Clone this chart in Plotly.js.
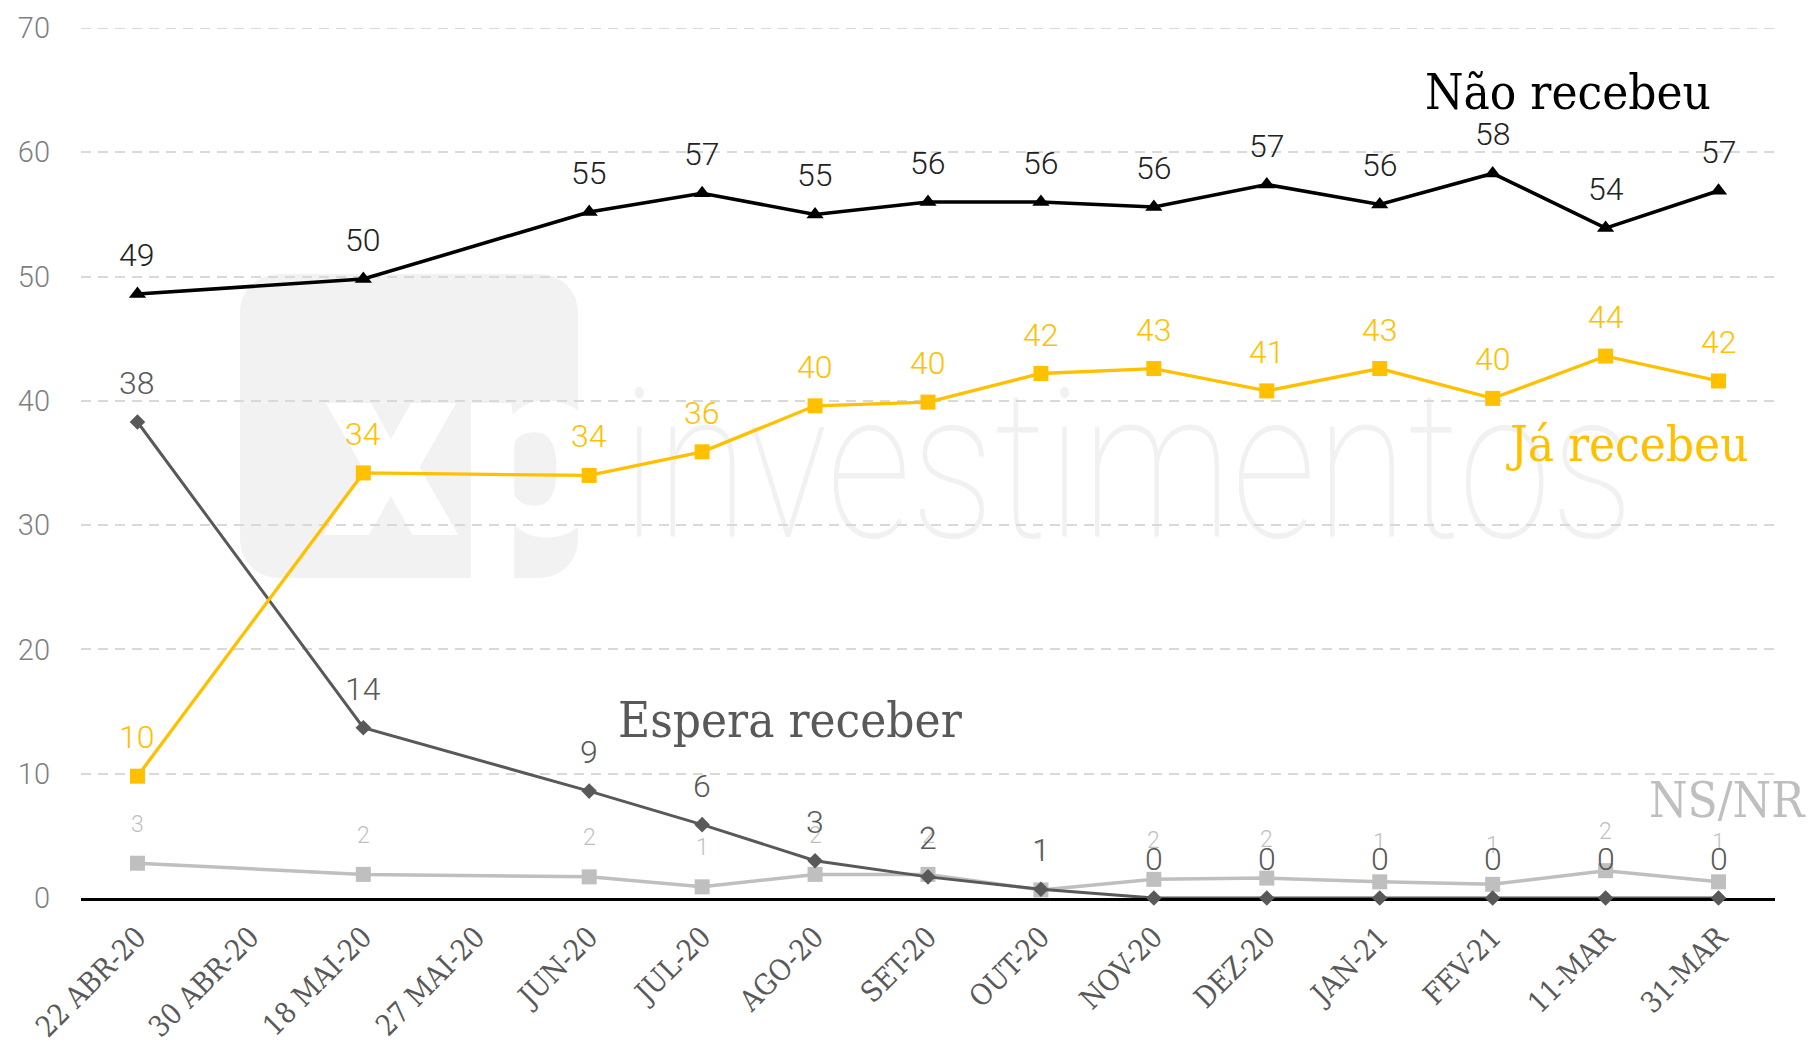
<!DOCTYPE html>
<html>
<head>
<meta charset="utf-8">
<script src="https://cdn.plot.ly/plotly-3.0.1.min.js"></script>
<style>html,body{margin:0;padding:0;background:#fff;}#chart{width:1810px;height:1055px;}</style>
</head>
<body>
<div id="chart"></div>
<script>
// ---- data ----
var categories = ["22 ABR-20","30 ABR-20","18 MAI-20","27 MAI-20","JUN-20","JUL-20","AGO-20","SET-20","OUT-20","NOV-20","DEZ-20","JAN-21","FEV-21","11-MAR","31-MAR"];
var naoRecebeu   = [48.6, null, 49.8, null, 55.2, 56.7, 55.0, 56.0, 56.0, 55.6, 57.4, 55.8, 58.3, 53.9, 56.9];
var jaRecebeu    = [9.8,  null, 34.2, null, 34.0, 35.9, 39.6, 39.9, 42.2, 42.6, 40.8, 42.6, 40.2, 43.6, 41.6];
var esperaReceber= [38.3, null, 13.7, null, 8.6,  5.9,  3.0,  1.7,  0.7,  0,    0,    0,    0,    0,    0];
var nsNr         = [2.8,  null, 1.9,  null, 1.7,  0.9,  1.9,  1.9,  0.65, 1.5,  1.6,  1.3,  1.1,  2.2,  1.3];
var seriesNames  = ["Não recebeu","Já recebeu","Espera receber","NS/NR"];
var yTicks = [0,10,20,30,40,50,60,70];

// ---- styles ----
var YEL = "#FFC000", DARK = "#595959", LIGHT = "#BFBFBF";
var NUMFONT = "Roboto, 'Open Sans', sans-serif";
var SLAB = "'DejaVu Serif Condensed', 'DejaVu Serif', serif";

var L = 81, R = 1775, T = 28, B = 898;
function px(x){ return (x - L) / (R - L); }
function py(y){ return (B - y) / (B - T); }

function mkTrace(vals, name, color, symbol, size, width){
  return {x: categories, y: vals, name: name, type: "scatter", mode: "lines+markers",
    connectgaps: true, line: {color: color, width: width},
    marker: {symbol: symbol, size: size, color: color}, hoverinfo: "skip", cliponaxis: false};
}
var traces = [
  mkTrace(nsNr, seriesNames[3], LIGHT, "square", 15, 3.5),
  mkTrace(esperaReceber, seriesNames[2], DARK, "diamond", 12, 3),
  mkTrace(jaRecebeu, seriesNames[1], YEL, "square", 15, 3.3),
  mkTrace(naoRecebeu, seriesNames[0], "#000000", "triangle-up", 15, 3.6)
];

var annotations = [];
function addLabels(vals, color, size){
  vals.forEach(function(v, i){
    if (v === null) return;
    annotations.push({x: categories[i], y: v, xref: "x", yref: "y", text: String(Math.round(v)),
      showarrow: false, yshift: 39, xanchor: "center", yanchor: "middle",
      font: {family: NUMFONT, size: size, color: color, weight: 300}});
  });
}
addLabels(nsNr, LIGHT, 23);
addLabels(esperaReceber, DARK, 32);
addLabels(jaRecebeu, YEL, 32);
addLabels(naoRecebeu, "#222222", 32);

function nameLabel(text, x, y, color, anchor){
  annotations.push({text: text, xref: "paper", yref: "paper", x: px(x), y: py(y), showarrow: false,
    xanchor: anchor || "center", yanchor: "middle",
    font: {family: SLAB, size: 49, color: color}});
}
nameLabel(seriesNames[0], 1568, 93, "#000000");
nameLabel(seriesNames[1], 1627, 445, YEL);
nameLabel(seriesNames[2], 790, 720, DARK);
nameLabel(seriesNames[3], 1808, 800, LIGHT, "right");

// watermark (decorative logo) as svg image below the grid
var W = R - L, H = B - T;
var svg = '<svg xmlns="http://www.w3.org/2000/svg" width="' + W + '" height="' + H + '" viewBox="0 0 ' + W + ' ' + H + '">' +
  '<defs><clipPath id="c"><rect x="' + (240-L) + '" y="' + (274-T) + '" width="338" height="304" rx="38" ry="38"/></clipPath></defs>' +
  '<rect x="' + (240-L) + '" y="' + (274-T) + '" width="338" height="304" rx="38" ry="38" fill="#f2f2f2"/>' +
  '<text clip-path="url(#c)" x="' + (322-L) + '" y="' + (535-T) + '" font-family="Roboto, sans-serif" font-weight="900" font-size="250" textLength="285" lengthAdjust="spacingAndGlyphs" fill="#ffffff">xp</text>' +
  '<text x="' + (622-L) + '" y="' + (537-T) + '" font-family="Roboto, sans-serif" font-weight="100" font-size="208" textLength="1012" lengthAdjust="spacingAndGlyphs" fill="#f1f1f1">investimentos</text>' +
  '</svg>';

var layout = {
  width: 1810, height: 1055,
  margin: {l: L, r: 1810 - R, t: T, b: 1055 - B, pad: 0},
  paper_bgcolor: "#ffffff", plot_bgcolor: "rgba(0,0,0,0)",
  showlegend: false,
  xaxis: {type: "category", categoryorder: "array", categoryarray: categories,
    range: [-0.5, 14.5], showgrid: false, zeroline: false,
    showline: true, linecolor: "#000000", linewidth: 2.5, layer: "below traces",
    ticks: "", tickangle: -45, ticklabelstandoff: 8,
    tickfont: {family: SLAB, size: 29, color: DARK}},
  yaxis: {range: [0, 70], tickvals: yTicks, ticktext: yTicks.map(String),
    showgrid: true, gridcolor: "#d9d9d9", gridwidth: 2, griddash: "10px,7px",
    zeroline: false, showline: false, ticks: "", ticklabelstandoff: 30, layer: "below traces",
    tickfont: {family: NUMFONT, size: 29, color: "#7f7f7f", weight: 300}},
  shapes: [{type: "line", layer: "below", xref: "paper", x0: 0, x1: 1, yref: "y", y0: 70, y1: 70,
    line: {color: "#d9d9d9", width: 2, dash: "10px,7px"}}],
  annotations: annotations,
  images: [{source: "data:image/svg+xml;charset=utf-8," + encodeURIComponent(svg),
    xref: "paper", yref: "paper", x: 0, y: 1, sizex: 1, sizey: 1,
    xanchor: "left", yanchor: "top", sizing: "stretch", layer: "below"}]
};

Plotly.newPlot("chart", traces, layout, {displayModeBar: false, staticPlot: true});
</script>
</body>
</html>
